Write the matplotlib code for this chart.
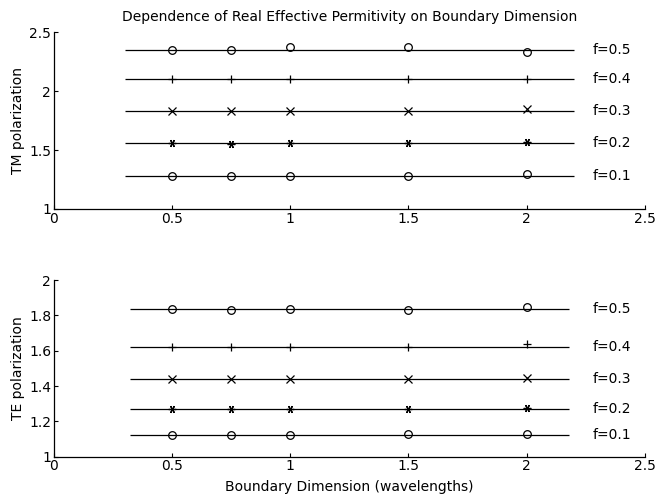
import numpy as np
import matplotlib
matplotlib.use("Agg")
import matplotlib.pyplot as plt

plt.rcParams['font.family'] = ['DejaVu Sans']

# boundary dimension (wavelengths) at which each case was computed
dims = [0.5, 0.75, 1.0, 1.5, 2.0]
fill_labels = ['f=0.1', 'f=0.2', 'f=0.3', 'f=0.4', 'f=0.5']

# real effective permittivity, TM polarization
tm_vals = [
    [1.28, 1.28, 1.28, 1.28, 1.30],
    [1.56, 1.555, 1.56, 1.56, 1.57],
    [1.83, 1.83, 1.83, 1.83, 1.845],
    [2.10, 2.10, 2.10, 2.10, 2.10],
    [2.35, 2.35, 2.37, 2.37, 2.333],
]
tm_levels = [1.28, 1.56, 1.83, 2.10, 2.35]

# real effective permittivity, TE polarization
te_vals = [
    [1.125, 1.125, 1.125, 1.13, 1.127],
    [1.27, 1.268, 1.27, 1.27, 1.277],
    [1.437, 1.437, 1.437, 1.437, 1.447],
    [1.623, 1.623, 1.62, 1.623, 1.637],
    [1.838, 1.83, 1.834, 1.83, 1.848],
]
te_levels = [1.125, 1.27, 1.44, 1.623, 1.834]

markers = ['o', (6, 2, 90), 'x', '+', 'o']
FS = 10

fig = plt.figure(figsize=(6.58, 4.97), dpi=100)
ax_tm = fig.add_axes([0.082, 0.5795, 0.898, 0.356])
ax_te = fig.add_axes([0.082, 0.0811, 0.898, 0.3555])


def draw_panel(ax, vals, levels, ylim, yticks, ylabel, xspan):
    for row, level, mk, lab in zip(vals, levels, markers, fill_labels):
        ax.hlines(level, xspan[0], xspan[1], color='black', linewidth=0.9)
        ax.plot(dims, row, linestyle='none', marker=mk, markersize=5.5,
                markerfacecolor='none', markeredgecolor='black',
                markeredgewidth=0.9)
        ax.text(2.28, level, lab, ha='left', va='center', fontsize=FS)
    ax.set_xlim(0, 2.5)
    ax.set_ylim(*ylim)
    ax.set_xticks([0, 0.5, 1, 1.5, 2, 2.5])
    ax.set_xticklabels(['0', '0.5', '1', '1.5', '2', '2.5'])
    ax.set_yticks(yticks)
    ax.set_yticklabels([f'{t:g}' for t in yticks])
    ax.set_ylabel(ylabel, fontsize=FS, labelpad=3)
    ax.spines['top'].set_visible(False)
    ax.spines['right'].set_visible(False)
    ax.spines['left'].set_linewidth(0.9)
    ax.spines['bottom'].set_linewidth(0.9)
    ax.tick_params(direction='in', length=3, width=0.8, labelsize=FS, pad=2)


draw_panel(ax_tm, tm_vals, tm_levels, (1, 2.5), [1, 1.5, 2, 2.5],
           'TM polarization', (0.3, 2.2))
draw_panel(ax_te, te_vals, te_levels, (1, 2), [1, 1.2, 1.4, 1.6, 1.8, 2],
           'TE polarization', (0.32, 2.18))

ax_tm.set_title('Dependence of Real Effective Permitivity on Boundary Dimension',
                fontsize=FS, pad=8)
ax_te.set_xlabel('Boundary Dimension (wavelengths)', fontsize=FS, labelpad=5)

fig.savefig('out.png', dpi=100)
